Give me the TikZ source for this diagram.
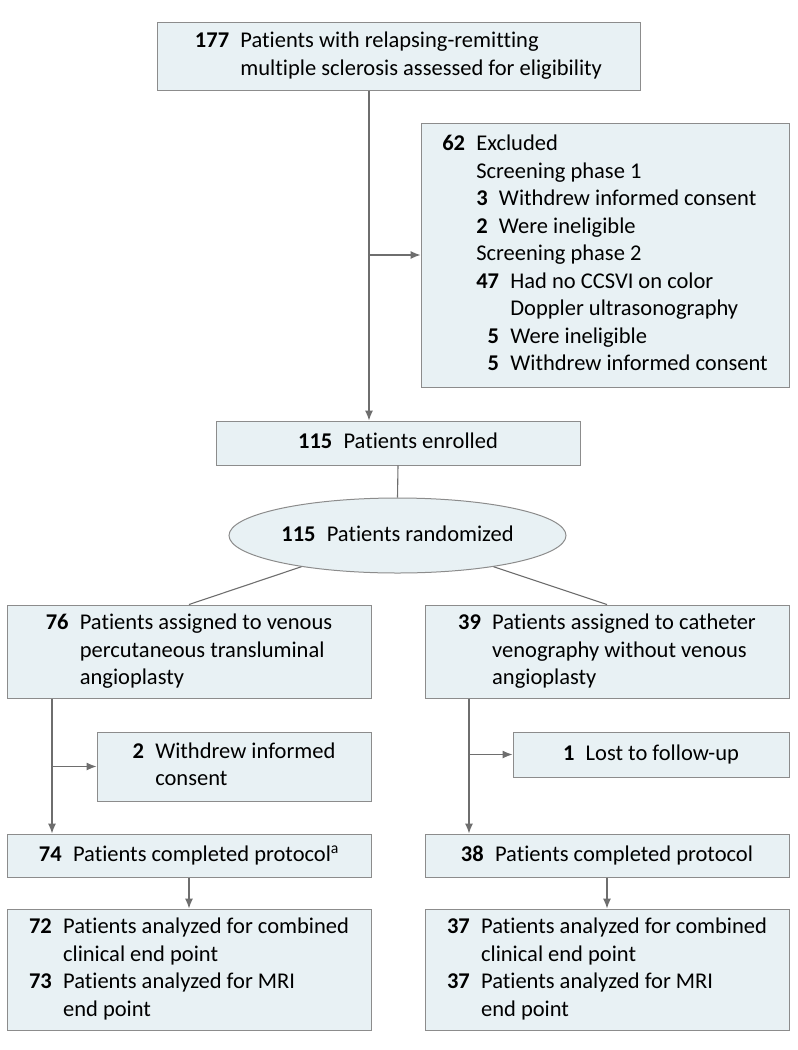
\documentclass[tikz,border=0pt]{standalone}
\usepackage{fontspec}
\setmainfont{Carlito}[Ligatures=NoCommon]
\usepackage{xcolor}
\usepackage{tikz}
\usetikzlibrary{arrows.meta,shapes.geometric}
\definecolor{boxfill}{HTML}{E8F1F4}
\definecolor{boxline}{HTML}{8C8C8C}
\definecolor{linegray}{HTML}{6E6E6E}
\newcommand{\flowtext}[1]{\begin{tabular}{@{}r@{\hspace{0.5em}}l@{}}#1\end{tabular}}

\begin{document}
\begin{tikzpicture}[x=1pt,y=-1pt,>={Latex[length=10pt,width=8pt]},
  box/.style={draw=boxline,fill=boxfill,line width=1pt,inner sep=0pt,align=center,
    font=\fontsize{22.5}{27.5}\selectfont},
  conn/.style={draw=linegray,line width=1.1pt}]
  \useasboundingbox (0,0) rectangle (798,1050);
  \node[box,minimum width=483,minimum height=68] (top) at (398.5,56)
    {\flowtext{\textbf{177} & Patients with relapsing-remitting\\ & multiple sclerosis assessed for eligibility}};
  \node[box,minimum width=368,minimum height=264] (excl) at (605,255)
    {\begin{tabular}{@{}r@{\hspace{0.5em}}r@{\hspace{0.5em}}l@{}}
      \textbf{62} & \multicolumn{2}{@{}l@{}}{Excluded}\\
      & \multicolumn{2}{@{}l@{}}{Screening phase 1}\\
      & \multicolumn{2}{@{}l@{}}{\textbf{3}\hspace{0.5em}Withdrew informed consent}\\
      & \multicolumn{2}{@{}l@{}}{\textbf{2}\hspace{0.5em}Were ineligible}\\
      & \multicolumn{2}{@{}l@{}}{Screening phase 2}\\
      & \textbf{47} & Had no CCSVI on color\\
      & & Doppler ultrasonography\\
      & \textbf{5} & Were ineligible\\
      & \textbf{5} & Withdrew informed consent
    \end{tabular}};
  \node[box,minimum width=364,minimum height=44] (enr) at (398,443)
    {\flowtext{\textbf{115} & Patients enrolled}};
  \node[box,ellipse,minimum width=337,minimum height=75] (rand) at (397.5,535.5)
    {\flowtext{\textbf{115} & Patients randomized}};
  \node[box,minimum width=364,minimum height=93] (grpA) at (189,651.5)
    {\flowtext{\textbf{76} & Patients assigned to venous\\ & percutaneous transluminal\\ & angioplasty}};
  \node[box,minimum width=364,minimum height=93] (grpB) at (607,651.5)
    {\flowtext{\textbf{39} & Patients assigned to catheter\\ & venography without venous\\ & angioplasty}};
  \node[box,minimum width=274,minimum height=69] (wdA) at (234,766.5)
    {\flowtext{\textbf{2} & Withdrew informed\\ & consent}};
  \node[box,minimum width=276,minimum height=45] (lostB) at (651,754.5)
    {\flowtext{\textbf{1} & Lost to follow-up}};
  \node[box,minimum width=364,minimum height=43] (doneA) at (189,855.5)
    {\flowtext{\textbf{74} & Patients completed protocol\textsuperscript{a}}};
  \node[box,minimum width=364,minimum height=43] (doneB) at (607,855.5)
    {\flowtext{\textbf{38} & Patients completed protocol}};
  \node[box,minimum width=364,minimum height=121] (anaA) at (189,969.5)
    {\flowtext{\textbf{72} & Patients analyzed for combined\\ & clinical end point\\
      \textbf{73} & Patients analyzed for MRI\\ & end point}};
  \node[box,minimum width=364,minimum height=121] (anaB) at (607,969.5)
    {\flowtext{\textbf{37} & Patients analyzed for combined\\ & clinical end point\\
      \textbf{37} & Patients analyzed for MRI\\ & end point}};
  \coordinate (spine) at (369,0);
  \coordinate (spineA) at (52,0);
  \coordinate (spineB) at (469,0);
  \draw[conn,->] (top.south -| spine) -- (enr.north -| spine);
  \draw[conn,->] (spine |- excl.west) -- (excl.west);
  \draw[conn] (enr.south) -- (rand.north);
  \draw[conn] (rand.198) -- (grpA.north);
  \draw[conn] (rand.-18) -- (grpB.north);
  \draw[conn,->] (grpA.south -| spineA) -- (doneA.north -| spineA);
  \draw[conn,->] (spineA |- wdA.west) -- (wdA.west);
  \draw[conn,->] (grpB.south -| spineB) -- (doneB.north -| spineB);
  \draw[conn,->] (spineB |- lostB.west) -- (lostB.west);
  \draw[conn,->] (doneA.south) -- (anaA.north);
  \draw[conn,->] (doneB.south) -- (anaB.north);
\end{tikzpicture}
\end{document}
